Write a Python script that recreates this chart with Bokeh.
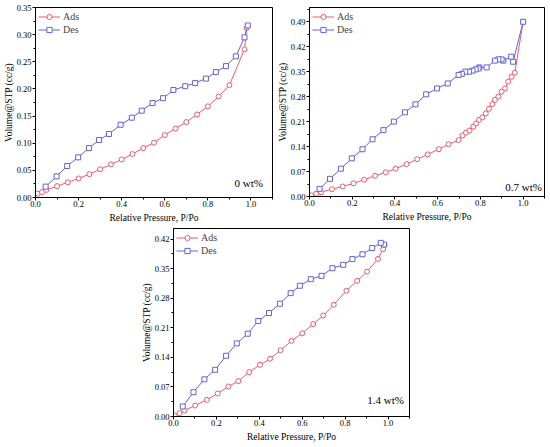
from bokeh.plotting import figure
from bokeh.layouts import column, row
from bokeh.models import Spacer, Label, FixedTicker, Legend, LegendItem, CustomJSTickFormatter
from bokeh.embed import file_html
from bokeh.resources import INLINE

# ---- data: panel 1 (0 wt%) ----
ads1_x = [0.01, 0.03, 0.05, 0.10, 0.15, 0.20, 0.25, 0.30, 0.35, 0.40, 0.45, 0.50,
          0.55, 0.60, 0.65, 0.70, 0.75, 0.80, 0.85, 0.90, 0.97, 0.98]
ads1_y = [0.007, 0.010, 0.014, 0.021, 0.028, 0.035, 0.043, 0.052, 0.061, 0.070, 0.080, 0.091,
          0.101, 0.115, 0.127, 0.139, 0.153, 0.168, 0.186, 0.207, 0.273, 0.312]
des1_x = [0.985, 0.97, 0.93, 0.884, 0.837, 0.791, 0.741, 0.695, 0.640, 0.592, 0.543, 0.493,
          0.447, 0.395, 0.341, 0.295, 0.248, 0.198, 0.147, 0.098, 0.047]
des1_y = [0.317, 0.295, 0.260, 0.242, 0.231, 0.219, 0.211, 0.205, 0.198, 0.183, 0.174, 0.160,
          0.147, 0.134, 0.117, 0.106, 0.091, 0.074, 0.058, 0.039, 0.020]

# ---- data: panel 2 (0.7 wt%) ----
ads2_x = [0.008, 0.031, 0.054, 0.105, 0.155, 0.206, 0.256, 0.307, 0.357, 0.403, 0.454, 0.504,
          0.553, 0.605, 0.651, 0.698, 0.716, 0.732, 0.749, 0.767, 0.780, 0.794, 0.809, 0.825,
          0.840, 0.856, 0.868, 0.884, 0.899, 0.915, 0.930, 0.946, 0.961, 1.0]
ads2_y = [0.003, 0.0075, 0.012, 0.0205, 0.028, 0.037, 0.047, 0.058, 0.068, 0.078, 0.0905, 0.1045,
          0.118, 0.1325, 0.1465, 0.158, 0.171, 0.179, 0.185, 0.196, 0.205, 0.215, 0.222, 0.233,
          0.246, 0.259, 0.271, 0.280, 0.294, 0.303, 0.322, 0.336, 0.347, 0.49]
des2_x = [1.0, 0.953, 0.944, 0.907, 0.899, 0.884, 0.868, 0.829, 0.795, 0.791, 0.778, 0.763,
          0.747, 0.729, 0.713, 0.698, 0.647, 0.597, 0.546, 0.496, 0.447, 0.395, 0.346, 0.295,
          0.248, 0.198, 0.147, 0.096, 0.047]
des2_y = [0.49, 0.378, 0.392, 0.381, 0.3845, 0.3845, 0.381, 0.362, 0.362, 0.359, 0.3565, 0.353,
          0.350, 0.350, 0.344, 0.341, 0.317, 0.303, 0.2865, 0.2585, 0.236, 0.210, 0.186, 0.1605,
          0.1325, 0.107, 0.078, 0.0495, 0.0215]

# ---- data: panel 3 (1.4 wt%) ----
ads3_x = [0.005, 0.028, 0.051, 0.101, 0.155, 0.206, 0.256, 0.302, 0.353, 0.403, 0.450, 0.499,
          0.550, 0.600, 0.651, 0.698, 0.747, 0.806, 0.856, 0.902, 0.953, 0.977, 0.984]
ads3_y = [0.0024, 0.0079, 0.0142, 0.026, 0.0395, 0.0545, 0.071, 0.0837, 0.105, 0.1224, 0.1366, 0.157,
          0.179, 0.197, 0.2187, 0.239, 0.2645, 0.2976, 0.321, 0.343, 0.373, 0.396, 0.4066]
des3_x = [0.981, 0.966, 0.926, 0.881, 0.834, 0.791, 0.741, 0.690, 0.640, 0.589, 0.546, 0.496,
          0.445, 0.395, 0.346, 0.295, 0.245, 0.194, 0.144, 0.093, 0.043]
des3_y = [0.407, 0.411, 0.3987, 0.384, 0.3726, 0.359, 0.351, 0.333, 0.325, 0.3095, 0.292, 0.267,
          0.245, 0.226, 0.196, 0.173, 0.1437, 0.1105, 0.088, 0.0576, 0.0237]

x_ticks = [0.0, 0.2, 0.4, 0.6, 0.8, 1.0]
y1_ticks = [0.00, 0.05, 0.10, 0.15, 0.20, 0.25, 0.30, 0.35]
y2_ticks = [0.00, 0.07, 0.14, 0.21, 0.28, 0.35, 0.42, 0.49]
y3_ticks = [0.00, 0.07, 0.14, 0.21, 0.28, 0.35, 0.42]
labels = ["0 wt%", "0.7 wt%", "1.4 wt%"]

RED = "#EE5A6A"
BLUE = "#6262DE"
FONT = "Liberation Serif"


def minor(ticks):
    step = ticks[1] - ticks[0]
    return [t + step / 2 for t in ticks] + [ticks[0] - step / 2]


def panel(ax, ay, dx, dy, yticks, ymax, label, lab_x, lab_y, fw, fh, bl, br, bt, bb):
    p = figure(frame_width=fw, frame_height=fh, x_range=(0, 1.1), y_range=(0, ymax),
               output_backend="svg", toolbar_location=None,
               min_border_left=bl, min_border_right=br, min_border_top=bt, min_border_bottom=bb)
    p.xgrid.visible = False
    p.ygrid.visible = False
    p.outline_line_color = "black"
    p.outline_line_width = 1
    p.background_fill_color = "white"
    p.border_fill_color = "white"

    r1 = p.line(ax, ay, line_color=RED, line_width=1)
    s1 = p.scatter(ax, ay, marker="circle", size=5, line_color=RED, fill_color="white", line_width=1)
    r2 = p.line(dx, dy, line_color=BLUE, line_width=1)
    s2 = p.scatter(dx, dy, marker="square", size=5, line_color=BLUE, fill_color="white", line_width=1)

    legend = Legend(items=[LegendItem(label="Ads", renderers=[r1, s1]),
                           LegendItem(label="Des", renderers=[r2, s2])],
                    location="top_left", border_line_color=None, background_fill_alpha=0,
                    label_text_font=FONT, label_text_font_size="10px",
                    glyph_width=22, glyph_height=13, label_height=13, spacing=0,
                    padding=3, margin=3, label_standoff=3)
    p.add_layout(legend)

    p.xaxis.ticker = FixedTicker(ticks=x_ticks, minor_ticks=minor(x_ticks))
    p.yaxis.ticker = FixedTicker(ticks=yticks, minor_ticks=minor(yticks))
    p.xaxis.formatter = CustomJSTickFormatter(code="return tick.toFixed(1);")
    p.yaxis.formatter = CustomJSTickFormatter(code="return tick.toFixed(2);")
    for axis in (p.xaxis, p.yaxis):
        axis.axis_line_color = "black"
        axis.major_tick_line_color = "black"
        axis.minor_tick_line_color = "black"
        axis.major_tick_out = 3
        axis.major_tick_in = 0
        axis.minor_tick_out = 2
        axis.minor_tick_in = 0
        axis.major_label_text_font = FONT
        axis.major_label_text_font_size = "8.5px"
        axis.major_label_text_color = "black"
        axis.axis_label_text_font = FONT
        axis.axis_label_text_font_size = "9.5px"
        axis.axis_label_text_font_style = "normal"
        axis.axis_label_text_color = "black"
        axis.major_label_standoff = 1
        axis.axis_label_standoff = 0
    p.xaxis.major_label_standoff = 0
    p.xaxis.axis_label_standoff = 3
    p.xaxis.axis_label = "Relative Pressure, P/Po"
    p.yaxis.axis_label = "Volume@STP (cc/g)"

    p.add_layout(Label(x=lab_x, y=lab_y, text=label, text_font=FONT, text_font_size="11px",
                       text_align="right", text_baseline="middle", text_color="black"))
    return p


p1 = panel(ads1_x, ads1_y, des1_x, des1_y, y1_ticks, 0.35, labels[0], 1.056, 0.026,
           237, 190, 28, 2, 7, 27)
p2 = panel(ads2_x, ads2_y, des2_x, des2_y, y2_ticks, 0.53, labels[1], 1.088, 0.028,
           235, 189, 33, 2, 2, 33)
p3 = panel(ads3_x, ads3_y, des3_x, des3_y, y3_ticks, 0.445, labels[2], 1.074, 0.038,
           236, 188, 32, 2, 3, 28)

layout = column(row(p1, p2), row(Spacer(width=138, height=10), p3))

with open("out.html", "w") as f:
    f.write(file_html(layout, INLINE))
